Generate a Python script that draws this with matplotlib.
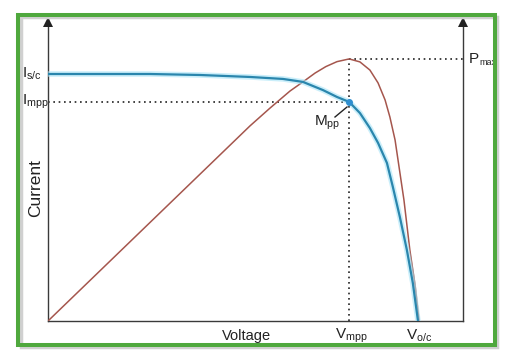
import matplotlib
matplotlib.use("Agg")
import matplotlib.pyplot as plt
from matplotlib.patches import Rectangle

plt.rcParams['font.family'] = ['Liberation Sans', 'DejaVu Sans']
plt.rcParams['mathtext.fontset'] = 'custom'
plt.rcParams['mathtext.rm'] = 'Liberation Sans'
plt.rcParams['mathtext.it'] = 'Liberation Sans'

# I-V curve (normalised: Voc = 1, Isc = 1)
voltage_iv = [0.0, 0.276, 0.411, 0.546, 0.635, 0.689, 0.743, 0.781, 0.814,
              0.843, 0.870, 0.892, 0.916, 0.932, 0.951, 0.970, 0.986, 1.0]
current_iv = [1.0, 1.0, 0.996, 0.988, 0.980, 0.968, 0.935, 0.907, 0.887,
              0.842, 0.781, 0.721, 0.640, 0.543, 0.421, 0.287, 0.154, 0.0]

# P-V curve (same normalised scale)
voltage_pv = [0.0, 0.546, 0.600, 0.654, 0.689, 0.722, 0.751, 0.781, 0.814,
              0.843, 0.870, 0.892, 0.911, 0.924, 0.938, 0.946, 0.954, 0.962,
              0.978, 0.992, 1.003]
power_pv = [0.0, 0.790, 0.862, 0.931, 0.968, 1.004, 1.030, 1.050, 1.061,
            1.049, 1.016, 0.964, 0.895, 0.826, 0.733, 0.652, 0.571, 0.490,
            0.287, 0.146, 0.0]

v_mpp = 0.814
i_mpp = 0.887
p_max = 1.061

W, H = 515, 359
fig = plt.figure(figsize=(W / 100, H / 100), dpi=100)
fig.patch.set_facecolor('white')

x0, x1, ytop, ybot = 48, 463, 18, 321
ax = fig.add_axes([x0 / W, 1 - ybot / H, (x1 - x0) / W, (ybot - ytop) / H])
xmax = (x1 - x0) / 370
ymax = (ybot - ytop) / 247
ax.set_xlim(0, xmax)
ax.set_ylim(0, ymax)
for s in ['top', 'right']:
    ax.spines[s].set_visible(False)
for s in ['left', 'bottom']:
    ax.spines[s].set_color('#3a3a3a')
    ax.spines[s].set_linewidth(1.0)
ax.set_xticks([])
ax.set_yticks([])
ax.patch.set_alpha(0)

def px(x, y):
    return ((x - x0) / 370, (ybot - y) / 247)

# right (power) axis line
ax.plot([xmax, xmax], [0, ymax], color='#3a3a3a', lw=1.0, clip_on=False)
# arrows on vertical axes
ay = px(0, 22)[1]
ax.plot([0, xmax], [ay, ay], linestyle='none', marker='^', color='#222222',
        markersize=6.5, markeredgewidth=0, clip_on=False, zorder=6)

# dotted guides
dot = dict(color='#222222', lw=1.2, linestyle=(0, (1, 2.2)))
ax.plot([0, v_mpp], [i_mpp, i_mpp], **dot)
ax.plot([v_mpp, v_mpp], [0, p_max], **dot)
ax.plot([v_mpp, xmax], [p_max, p_max], **dot)

# curves
ax.plot(voltage_pv, power_pv, color='#a5564d', lw=1.1, zorder=3)
ax.plot(voltage_iv, current_iv, color='#a8e4f7', lw=4.0, alpha=0.6, zorder=3,
        solid_capstyle='round')
ax.plot(voltage_iv, current_iv, color='#2a86ad', lw=1.6, zorder=4)
ax.plot([v_mpp], [i_mpp], marker='o', color='#2f8fd0', markersize=4, zorder=5)

# Mpp pointer
ax.plot([px(335, 117)[0], px(347, 107)[0]], [px(335, 117)[1], px(347, 107)[1]],
        color='#222222', lw=1.0, zorder=6)

tkw = dict(color='#222222', fontsize=11)
ax.text(*px(22, 74), r'I$_{\rm s/c}$', ha='left', va='center', clip_on=False, **tkw)
ax.text(*px(22, 102), r'I$_{\rm mpp}$', ha='left', va='center', clip_on=False, **tkw)
ax.text(*px(469, 59), 'P', ha='left', va='center', clip_on=False, **tkw)
ax.text(*px(479, 63), 'max', ha='left', va='center', clip_on=False,
        color='#222222', fontsize=6.5)
ax.text(*px(327, 123), r'M$_{\rm pp}$', ha='center', va='center', clip_on=False, **tkw)
ax.text(*px(351, 336), r'V$_{\rm mpp}$', ha='center', va='center', clip_on=False, **tkw)
ax.text(*px(419, 336), r'V$_{\rm o/c}$', ha='center', va='center', clip_on=False, **tkw)
ax.text(*px(246, 336), 'Voltage', ha='center', va='center', clip_on=False,
        color='#222222', fontsize=10.5)
ax.text(*px(36, 188), 'Current', ha='center', va='center', rotation=90, clip_on=False,
        color='#222222', fontsize=12.5)

# green frame with soft shadow (drawn on top)
fig.add_artist(Rectangle((20.5 / W, 1 - 347 / H), 476 / W, 330 / H, transform=fig.transFigure,
                         fill=False, edgecolor='#d0d0d0', linewidth=2.5, zorder=9))
fig.add_artist(Rectangle((18.5 / W, 1 - 344.5 / H), 476.5 / W, 329.5 / H,
                         transform=fig.transFigure, fill=False, edgecolor='#4fa83d',
                         linewidth=2.9, zorder=10))

fig.savefig('out.png', dpi=100)
